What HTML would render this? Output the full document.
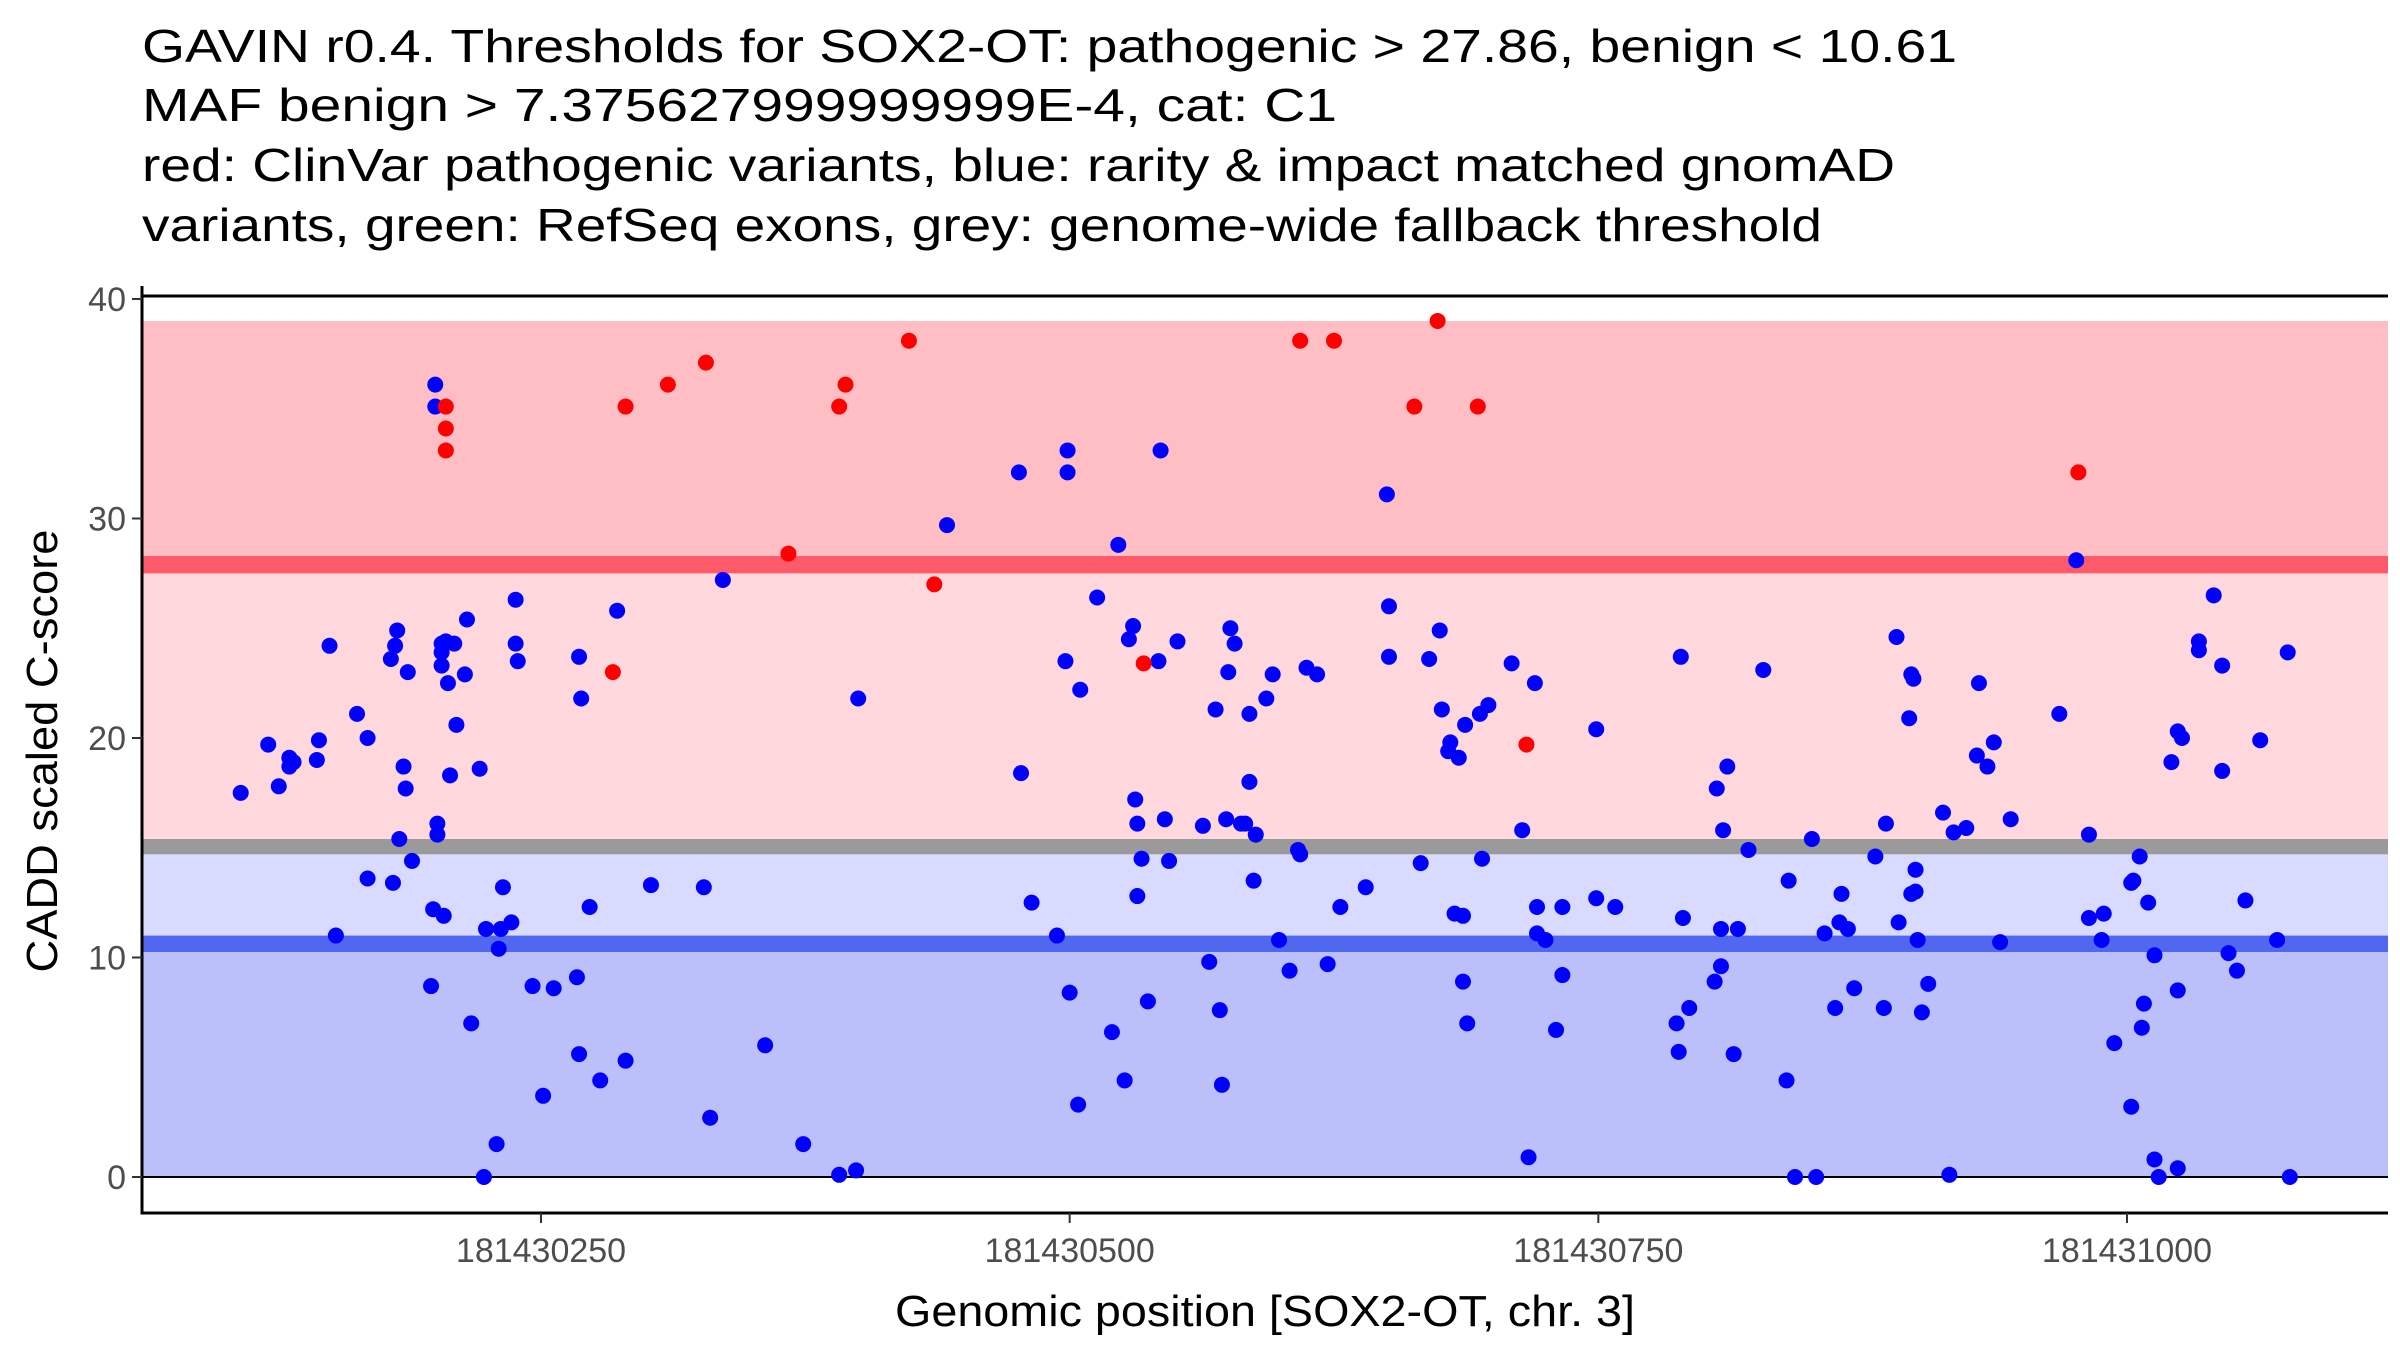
<!DOCTYPE html>
<html><head><meta charset="utf-8"><style>
html,body{margin:0;padding:0;background:#fff;}
svg{display:block;font-family:"Liberation Sans",sans-serif;}
</style></head><body>
<svg id="chart" width="2400" height="1350" viewBox="0 0 2400 1350">
<g font-size="46" fill="#000">
<text x="142" y="62" textLength="1815" lengthAdjust="spacingAndGlyphs">GAVIN r0.4. Thresholds for SOX2-OT: pathogenic &gt; 27.86, benign &lt; 10.61</text>
<text x="142" y="121" textLength="1195" lengthAdjust="spacingAndGlyphs">MAF benign &gt; 7.375627999999999E-4, cat: C1</text>
<text x="142" y="181" textLength="1753" lengthAdjust="spacingAndGlyphs">red: ClinVar pathogenic variants, blue: rarity &amp; impact matched gnomAD</text>
<text x="142" y="241" textLength="1680" lengthAdjust="spacingAndGlyphs">variants, green: RefSeq exons, grey: genome-wide fallback threshold</text>
</g>
<g id="bands"></g>
<g id="axes"></g>
<g id="points"></g>
<text x="1265" y="1326" font-size="44" text-anchor="middle" textLength="740" lengthAdjust="spacingAndGlyphs">Genomic position [SOX2-OT, chr. 3]</text>
<text transform="translate(57,751) rotate(-90)" font-size="44" text-anchor="middle" textLength="443" lengthAdjust="spacingAndGlyphs">CADD scaled C-score</text>
</svg>
<script>
// positions are offsets from 181430000
const BASE = 181430000;
const xTicks = [181430250, 181430500, 181430750, 181431000];
const yTicks = [0, 10, 20, 30, 40];
const bandLo = [0, 10.25, 11.0, 14.7, 15.4, 27.5, 28.3];
const bandHi = [10.25, 11.0, 14.7, 15.4, 27.5, 28.3, 39.0];
const bandNames = ['benign-band','benign-threshold-line','benign-grey-band','fallback-threshold-line','intermediate-band','pathogenic-threshold-line','pathogenic-band'];
const bandColors = ['#bbc0fa','#5068f0','#d8dbff','#9a9a9a','#ffd8dd','#ff5a6a','#ffbec3'];

const bluePos = [108,121,126,131,131,133,144,145,150,153,163,168,168,179,180,181,182,183,185,186,187,189,198,199,200,200,201,201,203,203,203,204,205,206,207,209,210,214,215,217,221,223,224,229,230,231,232,236,238,238,239,246,251,256,267,268,268,269,273,278,286,290,302,327,330,336,356,374,391,399,400,442,476,477,482,494,498,499,499,500,504,505,513,523,520,526,528,530,531,532,532,534,537,542,543,545,547,551,563,566,569,571,572,574,575,576,578,581,583,585,585,588,587,593,596,599,604,608,609,612,617,622,628,640,650,651,651,666,670,675,676,679,680,684,682,686,686,688,687,694,695,698,709,714,717,720,721,721,725,730,733,733,749,749,758,787,788,789,793,790,805,806,808,808,809,811,814,816,821,828,839,840,843,851,853,857,862,864,865,868,871,881,885,886,891,892,897,898,898,899,900,900,901,903,906,913,916,918,924,929,930,934,937,940,945,968,976,982,982,988,989,994,1002,1002,1003,1006,1007,1008,1010,1013,1013,1015,1021,1024,1024,1024,1026,1034,1034,1041,1045,1045,1048,1052,1056,1063,1071,1077,1076];
const blueScore = [17.5,19.7,17.8,19.1,18.7,18.9,19.0,19.9,24.2,11.0,21.1,20.0,13.6,23.6,13.4,24.2,24.9,15.4,18.7,17.7,23.0,14.4,8.7,12.2,36.1,35.1,16.1,15.6,24.3,23.9,23.3,11.9,24.4,22.5,18.3,24.3,20.6,22.9,25.4,7.0,18.6,0,11.3,1.5,10.4,11.3,13.2,11.6,24.3,26.3,23.5,8.7,3.7,8.6,9.1,5.6,23.7,21.8,12.3,4.4,25.8,5.3,13.3,13.2,2.7,27.2,6.0,1.5,0.1,0.3,21.8,29.7,32.1,18.4,12.5,11.0,23.5,33.1,32.1,8.4,3.3,22.2,26.4,28.8,6.6,4.4,24.5,25.1,17.2,16.1,12.8,14.5,8.0,23.5,33.1,16.3,14.4,24.4,16.0,9.8,21.3,7.6,4.2,16.3,23.0,25.0,24.3,16.1,16.1,18.0,21.1,15.6,13.5,21.8,22.9,10.8,9.4,14.9,14.7,23.2,22.9,9.7,12.3,13.2,31.1,26.0,23.7,14.3,23.6,24.9,21.3,19.4,19.8,19.1,12.0,11.9,8.9,7.0,20.6,21.1,14.5,21.5,23.4,15.8,0.9,22.5,12.3,11.1,10.8,6.7,9.2,12.3,20.4,12.7,12.3,7.0,5.7,23.7,7.7,11.8,8.9,17.7,9.6,11.3,15.8,18.7,5.6,11.3,14.9,23.1,4.4,13.5,0,15.4,0,11.1,7.7,11.6,12.9,11.3,8.6,14.6,7.7,16.1,24.6,11.6,20.9,12.9,22.9,22.7,14.0,13.0,10.8,7.5,8.8,16.6,0.1,15.7,15.9,19.2,22.5,18.7,19.8,10.7,16.3,21.1,28.1,15.6,11.8,10.8,12.0,6.1,3.2,13.4,13.5,14.6,6.8,7.9,12.5,10.1,0.8,0,18.9,8.5,0.4,20.3,20.0,24.4,24.0,26.5,23.3,18.5,10.2,9.4,12.6,19.9,10.8,0,23.9];
const redPos = [205,205,205,290,284,310,328,367,391,394,424,436,535,609,625,663,674,693,716,977];
const redScore = [35.1,34.1,33.1,35.1,23.0,36.1,37.1,28.4,35.1,36.1,38.1,27.0,23.4,38.1,38.1,35.1,39.0,35.1,19.7,32.1];

const NS = 'http://www.w3.org/2000/svg';
const L = 142, R = 2388, T = 296, B = 1213;
function xs(p){ return 541 + (p - 250) * (2127 - 541) / 750; }
function ys(v){ return 1177 - v * (1177 - 299) / 40; }
function mk(tag, attrs, parent){
  const e = document.createElementNS(NS, tag);
  for (const k in attrs) e.setAttribute(k, attrs[k]);
  parent.appendChild(e);
  return e;
}
const bands = document.getElementById('bands');
for (let i = 0; i < bandLo.length; i++){
  const r = mk('rect', {x:L, y:ys(bandHi[i]), width:R-L, height:ys(bandLo[i])-ys(bandHi[i]), fill:bandColors[i]}, bands);
  
  
}
const axes = document.getElementById('axes');
const zl = mk('line', {x1:L, x2:R, y1:ys(0), y2:ys(0), stroke:'#000', 'stroke-width':2}, axes);


const tl = mk('line', {x1:L, x2:R, y1:T, y2:T, stroke:'#000', 'stroke-width':3}, axes);


const xa = mk('line', {x1:L-1.5, x2:R, y1:B, y2:B, stroke:'#000', 'stroke-width':3}, axes);


const ya = mk('line', {x1:L, x2:L, y1:T-10, y2:B+1.5, stroke:'#000', 'stroke-width':3}, axes);


yTicks.forEach(v => {
  const t = mk('line', {x1:L-10, x2:L, y1:ys(v), y2:ys(v), stroke:'#333', 'stroke-width':2}, axes);
  
  
  const lb = mk('text', {x:L-16, y:ys(v)+12, 'font-size':34, fill:'#4d4d4d', 'text-anchor':'end'}, axes);
  lb.textContent = v;
  
  
});
xTicks.forEach(v => {
  const x = xs(v - BASE);
  const t = mk('line', {x1:x, x2:x, y1:B, y2:B+10, stroke:'#333', 'stroke-width':2}, axes);
  
  
  const lb = mk('text', {x:x, y:1262, 'font-size':34, fill:'#4d4d4d', 'text-anchor':'middle'}, axes);
  lb.textContent = v;
  
  
});
const pts = document.getElementById('points');
for (let i = 0; i < bluePos.length; i++){
  const c = mk('circle', {cx:xs(bluePos[i]), cy:ys(blueScore[i]), r:8, fill:'#0000ff'}, pts);
  
  
}
for (let i = 0; i < redPos.length; i++){
  const c = mk('circle', {cx:xs(redPos[i]), cy:ys(redScore[i]), r:8, fill:'#ff0000'}, pts);
  
  
}
</script>
</body></html>
